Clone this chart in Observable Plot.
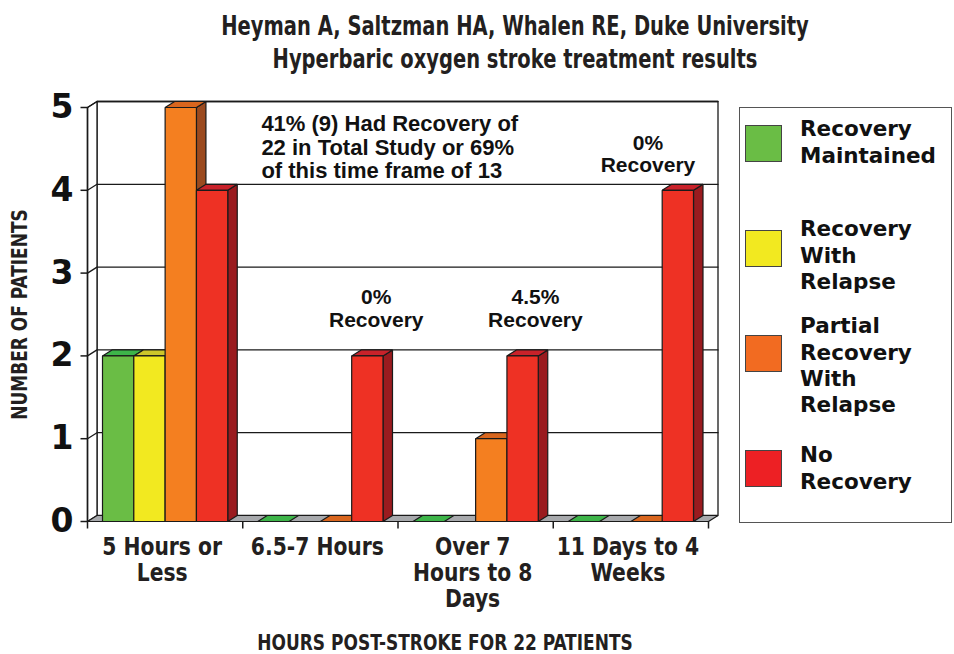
<!DOCTYPE html>
<html><head><meta charset="utf-8">
<script src="https://cdn.jsdelivr.net/npm/d3@7"></script>
<script src="https://cdn.jsdelivr.net/npm/@observablehq/plot@0.6"></script>
<style>
body{margin:0;background:#fff;}
#wrap{position:relative;width:954px;height:654px;overflow:hidden;background:#fff;}
#wrap svg{position:absolute;left:0;top:0;}
#title{position:absolute;left:115px;width:800px;top:10px;text-align:center;white-space:pre;transform:scaleX(0.834);transform-origin:400px 0;font-family:"DejaVu Sans Condensed",sans-serif;font-weight:bold;font-size:26px;line-height:33px;color:#231f20;}
#legend{position:absolute;left:739px;top:107px;width:213px;height:416px;box-sizing:border-box;border:1.5px solid #555;background:#fff;}
.sw{position:absolute;left:5px;width:37px;height:37px;box-sizing:border-box;border:1px solid #444;}
.lt{position:absolute;left:60px;white-space:pre;font-family:"DejaVu Sans",sans-serif;font-weight:bold;font-size:21.5px;line-height:26.4px;color:#111;}
</style></head><body><div id="wrap"><div id="title"></div></div>
<script>
// ---- data ----
const titleLines = ["Heyman A, Saltzman HA, Whalen RE, Duke University", "Hyperbaric oxygen stroke treatment results"];
const categories = ["5 Hours or\nLess", "6.5-7 Hours", "Over 7\nHours to 8\nDays", "11 Days to 4\nWeeks"];
const seriesNames = ["Recovery\nMaintained", "Recovery\nWith\nRelapse", "Partial\nRecovery\nWith\nRelapse", "No\nRecovery"];
const recoveryMaintained = [2, 0, 0, 0];
const recoveryWithRelapse = [2, 0, 0, 0];
const partialRecovery = [5, 0, 1, 0];
const noRecovery = [4, 2, 2, 4];
const yTicks = [0, 1, 2, 3, 4, 5];
const yTitle = "NUMBER OF PATIENTS";
const xTitle = "HOURS POST-STROKE FOR 22 PATIENTS";
const annotationTexts = [
  "41% (9) Had Recovery of\n22 in Total Study or 69%\nof this time frame of 13",
  "0%\nRecovery",
  "4.5%\nRecovery",
  "0%\nRecovery"
];
const frontColors = ["#6abd45", "#f2e920", "#f47f20", "#ee3124"];
const legendColors = ["#6abd45", "#f2e920", "#f26b21", "#ed2024"];
const topColors = ["#3db449", "#cdc62a", "#d9661e", "#c9222a"];
const sideColors = ["#3a8a35", "#a9a21c", "#9b4a1f", "#9a1b1f"];
const floorColor = "#a7a9ac";

// ---- layout ----
const W = 954, H = 654, mL = 87, mR = 246, mT = 107, mB = 133;
const UX = (W - mL - mR) / categories.length;   // px per category
const UY = (H - mT - mB) / 5;                     // px per patient
const DX = 9.5 / UX, DY = 6 / UY;                 // 3D depth in data units
const PAD = 15 / UX, BW = (1 - 2 * PAD) / 4;
const legendSwatchTops = [16.5, 121.5, 226.5, 341.5];
const legendTextTops = [8.2, 108.2, 205.2, 334.2];

const seriesValues = [recoveryMaintained, recoveryWithRelapse, partialRecovery, noRecovery];

// polygons
const wall = [], solids = [], grid = [];
let pid = 0;
function poly(arr, pts, fill) { const id = pid++; for (const [x, y] of pts) arr.push({id, x, y, fill}); }
const nC = categories.length, yMax = d3.max(yTicks);
poly(wall, [[DX, DY], [nC + DX, DY], [nC + DX, yMax + DY], [DX, yMax + DY]], "#fff");
poly(wall, [[0, 0], [DX, DY], [DX, yMax + DY], [0, yMax]], "#fff");
for (const t of yTicks.filter(t => t > 0)) {
  grid.push({t, x: 0, y: t}, {t, x: DX, y: t + DY}, {t, x: nC + DX, y: t + DY});
}
poly(solids, [[0, 0], [nC, 0], [nC + DX, DY], [DX, DY]], floorColor);
categories.forEach((c, i) => {
  seriesValues.forEach((vals, s) => {
    const v = vals[i];
    const x1 = i + PAD + s * BW, x2 = x1 + BW;
    if (v === 0) {
      if (s === 1) return; // no visible top for empty yellow bars
      poly(solids, [[x1, 0], [x2, 0], [x2 + DX, DY], [x1 + DX, DY]], topColors[s]);
      return;
    }
    poly(solids, [[x2, 0], [x2 + DX, DY], [x2 + DX, v + DY], [x2, v]], sideColors[s]);
    poly(solids, [[x1, v], [x2, v], [x2 + DX, v + DY], [x1 + DX, v + DY]], topColors[s]);
    poly(solids, [[x1, 0], [x2, 0], [x2, v], [x1, v]], frontColors[s]);
  });
});

const noteLeft = [{text: annotationTexts[0], x: 1.12, y: 4.52}];
const notesCentered = [
  {text: annotationTexts[1], x: 1.86, y: 2.575},
  {text: annotationTexts[2], x: 2.885, y: 2.575},
  {text: annotationTexts[3], x: 3.61, y: 4.44}
];

const cond = '"DejaVu Sans Condensed",sans-serif';
const stroke = "#1a1a1a";

const chart = Plot.plot({
  width: W, height: H,
  marginLeft: mL, marginRight: mR, marginTop: mT, marginBottom: mB,
  x: {domain: [0, nC], axis: null},
  y: {domain: [0, yMax], axis: null},
  color: {type: "identity"},
  style: {background: "transparent", overflow: "visible"},
  marks: [
    Plot.line(wall, {x: "x", y: "y", z: "id", fill: "fill", stroke, strokeWidth: 1.3, curve: "linear-closed"}),
    Plot.line(grid, {x: "x", y: "y", z: "t", stroke, strokeWidth: 1.3}),
    Plot.line(solids, {x: "x", y: "y", z: "id", fill: "fill", stroke, strokeWidth: 1.2, curve: "linear-closed", strokeLinejoin: "miter"}),
    Plot.ruleX([0], {y1: 0, y2: yMax, stroke, strokeWidth: 1.5}),
    Plot.link(yTicks, {x1: 0, x2: -7 / UX, y1: d => d, y2: d => d, stroke, strokeWidth: 1.5}),
    Plot.link(d3.range(nC + 1), {x1: d => d, x2: d => d, y1: 0, y2: -7 / UY, stroke, strokeWidth: 1.5}),
    Plot.text(yTicks, {x: 0, y: d => d, dx: -14, textAnchor: "end", fontSize: 33, fontWeight: "bold", fontFamily: '"DejaVu Sans",sans-serif', fill: "#111"}),
    Plot.text(categories, {x: (d, i) => i + 0.5, y: 0, dx: -3, dy: 15, lineAnchor: "top", lineHeight: 1.08, fontSize: 24, fontWeight: "bold", fontFamily: cond, fill: "#231f20"}),
    Plot.text(noteLeft, {x: "x", y: "y", text: "text", textAnchor: "start", lineHeight: 1.07, fontSize: 22, fontWeight: "bold", fontFamily: '"Liberation Sans",Arial,sans-serif', fill: "#111"}),
    Plot.text(notesCentered, {x: "x", y: "y", text: "text", textAnchor: "middle", lineHeight: 1.08, fontSize: 21, fontWeight: "bold", fontFamily: '"Liberation Sans",Arial,sans-serif', fill: "#111"}),
    Plot.text([yTitle], {frameAnchor: "left", textAnchor: "middle", lineAnchor: "middle", dx: -67, rotate: -90, fontSize: 21, fontWeight: "bold", fontFamily: cond, fill: "#231f20"}),
    Plot.text([xTitle], {frameAnchor: "bottom", textAnchor: "middle", lineAnchor: "middle", dx: 47, dy: 122, fontSize: 21, fontWeight: "bold", fontFamily: cond, fill: "#231f20"})
  ]
});
const wrap = document.getElementById("wrap");
wrap.appendChild(chart);

// horizontally condense the narrow-type labels
d3.select(chart).selectAll("g").each(function () {
  if (this.getAttribute("font-family") !== cond) return;
  const s = +this.getAttribute("font-size") === 24 ? 0.94 : 0.9;
  d3.select(this).selectAll("text").each(function () {
    const tr = this.getAttribute("transform");
    if (tr) this.setAttribute("transform", tr + ` scale(${s},1)`);
    else {
      const x = +this.getAttribute("x") || 0, y = +this.getAttribute("y") || 0;
      this.removeAttribute("x"); this.removeAttribute("y");
      this.setAttribute("transform", `translate(${x},${y}) scale(${s},1)`);
    }
  });
});

document.getElementById("title").textContent = titleLines.join("\n");

// legend
const legend = document.createElement("div");
legend.id = "legend";
seriesNames.forEach((name, i) => {
  const sw = document.createElement("div");
  sw.className = "sw"; sw.style.background = legendColors[i];
  sw.style.top = legendSwatchTops[i] + "px";
  const lt = document.createElement("div");
  lt.className = "lt"; lt.textContent = name;
  lt.style.top = legendTextTops[i] + "px";
  legend.appendChild(sw); legend.appendChild(lt);
});
wrap.appendChild(legend);
</script></body></html>
